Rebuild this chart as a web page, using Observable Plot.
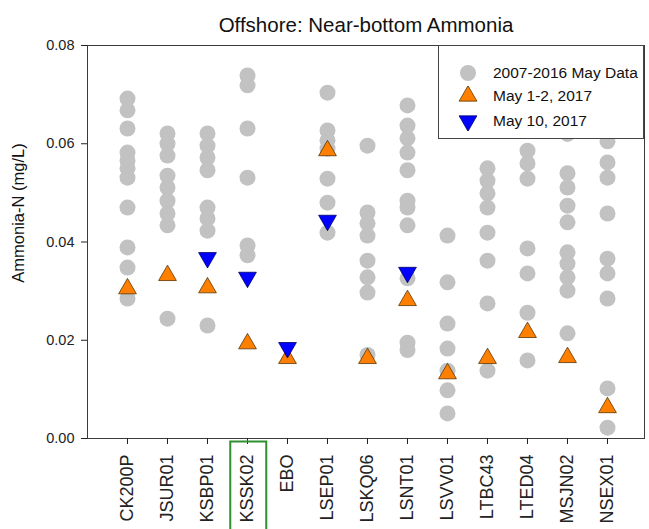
<!DOCTYPE html>
<html>
<head>
<meta charset="utf-8">
<script src="https://cdn.jsdelivr.net/npm/d3@7"></script>
<script src="https://cdn.jsdelivr.net/npm/@observablehq/plot@0.6"></script>
<style>
  body { margin: 0; background: #fff; font-family: Arial, "Liberation Sans", sans-serif; }
  #chart { position: relative; width: 649px; height: 529px; overflow: hidden; }
  #legend {
    position: absolute; left: 438px; top: 45px; width: 206px; height: 94px;
    background: #fff; border: 1px solid #444; box-sizing: border-box;
    font-size: 15.5px; color: #111;
  }
  #legend .row { position: absolute; left: 0; height: 20px; display: flex; align-items: center; }
  #legend svg { width: 30px; height: 20px; margin-left: 14px; margin-right: 10px; }
</style>
</head>
<body>
<div id="chart"></div>
<script>
// Offshore stations sampled for near-bottom ammonia
const stations = ["CK200P", "JSUR01", "KSBP01", "KSSK02", "EBO", "LSEP01", "LSKQ06",
                  "LSNT01", "LSVV01", "LTBC43", "LTED04", "MSJN02", "NSEX01"];
const highlighted = ["KSSK02"];

// 2007-2016 May samples, ammonia-N (mg/L), by station
const CK200P = [0.0692, 0.0668, 0.0631, 0.0582, 0.0566, 0.0550, 0.0531, 0.0470, 0.0389, 0.0348, 0.0285];
const JSUR01 = [0.0621, 0.0600, 0.0576, 0.0535, 0.0511, 0.0484, 0.0458, 0.0434, 0.0244];
const KSBP01 = [0.0621, 0.0596, 0.0572, 0.0546, 0.0470, 0.0448, 0.0423, 0.0230];
const KSSK02 = [0.0739, 0.0719, 0.0631, 0.0531, 0.0393, 0.0373];
const EBO    = [];
const LSEP01 = [0.0704, 0.0627, 0.0607, 0.0590, 0.0529, 0.0480, 0.0419];
const LSKQ06 = [0.0596, 0.0460, 0.0438, 0.0413, 0.0362, 0.0328, 0.0297, 0.0170];
const LSNT01 = [0.0678, 0.0637, 0.0611, 0.0582, 0.0546, 0.0484, 0.0470, 0.0434, 0.0326, 0.0195, 0.0180];
const LSVV01 = [0.0413, 0.0318, 0.0234, 0.0183, 0.0138, 0.0098, 0.0051];
const LTBC43 = [0.0550, 0.0525, 0.0499, 0.0470, 0.0419, 0.0362, 0.0275, 0.0138];
const LTED04 = [0.0586, 0.0560, 0.0529, 0.0387, 0.0336, 0.0256, 0.0159];
const MSJN02 = [0.0620, 0.0540, 0.0511, 0.0474, 0.0440, 0.0379, 0.0356, 0.0328, 0.0301, 0.0214];
const NSEX01 = [0.0605, 0.0562, 0.0531, 0.0458, 0.0366, 0.0336, 0.0285, 0.0102, 0.0022];
const historic = [CK200P, JSUR01, KSBP01, KSSK02, EBO, LSEP01, LSKQ06,
                  LSNT01, LSVV01, LTBC43, LTED04, MSJN02, NSEX01];

// 2017 surveys, same station order (null = not sampled)
const may1to2_2017 = [0.0305, 0.0332, 0.0307, 0.0193, 0.0163, 0.0586, 0.0163,
                      0.0281, 0.0132, 0.0163, 0.0216, 0.0165, 0.0063];
const may10_2017   = [null, null, 0.0368, 0.0328, 0.0185, 0.0444, null,
                      0.0338, null, null, null, null, null];

const yTicks = [0, 0.02, 0.04, 0.06, 0.08];

const historicRows = historic.flatMap((vals, i) => vals.map(v => ({station: stations[i], value: v})));
const early = stations.map((s, i) => ({station: s, value: may1to2_2017[i]}));
const late = stations.map((s, i) => ({station: s, value: may10_2017[i]})).filter(d => d.value != null);

const gray = "#c2c2c2", orange = "#ff8000", blue = "#0000ff";

const plot = Plot.plot({
  width: 649,
  height: 529,
  marginLeft: 87,
  marginRight: 5,
  marginTop: 45,
  marginBottom: 91,
  style: {fontFamily: "Arial, 'Liberation Sans', sans-serif", color: "#222", background: "#fff"},
  x: {type: "point", domain: stations, padding: 0.95, align: 0.525},
  y: {domain: [0, 0.08]},
  marks: [
    Plot.frame({stroke: "#3a3a3a"}),
    Plot.axisY({ticks: yTicks, tickFormat: ".2f", tickSize: 6, tickPadding: 7, fontSize: 14.5, label: null}),
    Plot.axisX({tickRotate: -90, tickSize: 6, tickPadding: 10, fontSize: 18, label: null}),
    Plot.dot(historicRows, {x: "station", y: "value", r: 8, fill: gray}),
    Plot.dot(early, {x: "station", y: "value", symbol: "triangle", r: 6.6, fill: orange, stroke: "#5a3300", strokeWidth: 0.8}),
    Plot.dot(late, {x: "station", y: "value", symbol: "triangle", rotate: 180, r: 6.6, fill: blue, stroke: "#00006a", strokeWidth: 0.8}),
    Plot.text(["Ammonia-N (mg/L)"], {frameAnchor: "left", textAnchor: "middle", rotate: -90, dx: -69, dy: -29, fontSize: 16.5, fill: "#111"}),
    Plot.text(["Offshore: Near-bottom Ammonia"], {frameAnchor: "top", dy: -28, fontSize: 20.5, fill: "#111"})
  ]
});

const chart = document.getElementById("chart");
chart.appendChild(plot);

// Outline the highlighted station names on the x axis
const svgRect = plot.getBoundingClientRect();
plot.querySelectorAll('[aria-label="x-axis tick label"] text').forEach(t => {
  if (!highlighted.includes(t.textContent)) return;
  const b = t.getBoundingClientRect();
  const r = document.createElementNS("http://www.w3.org/2000/svg", "rect");
  r.setAttribute("x", b.left - svgRect.left - 7);
  r.setAttribute("y", b.top - svgRect.top - 13);
  r.setAttribute("width", b.width + 16);
  r.setAttribute("height", 200);
  r.setAttribute("fill", "none");
  r.setAttribute("stroke", "#2f8f2f");
  r.setAttribute("stroke-width", 2);
  plot.appendChild(r);
});

// Legend
const legend = document.createElement("div");
legend.id = "legend";
const items = [
  {label: "2007-2016 May Data", shape: "circle", fill: gray},
  {label: "May 1-2, 2017", shape: "up", fill: orange, stroke: "#5a3300"},
  {label: "May 10, 2017", shape: "down", fill: blue, stroke: "#00006a"}
];
const rowTops = [17, 40, 65];
items.forEach((it, i) => {
  const row = document.createElement("div");
  row.className = "row";
  row.style.top = rowTops[i] + "px";
  const icon = d3.create("svg").attr("viewBox", "-15 -10 30 20");
  if (it.shape === "circle") {
    icon.append("circle").attr("r", 8).attr("fill", it.fill);
  } else {
    icon.append("path")
      .attr("d", d3.symbol(d3.symbolTriangle, Math.PI * 6.6 * 6.6)())
      .attr("transform", it.shape === "down" ? "rotate(180)" : null)
      .attr("fill", it.fill).attr("stroke", it.stroke).attr("stroke-width", 0.8);
  }
  row.appendChild(icon.node());
  const span = document.createElement("span");
  span.textContent = it.label;
  row.appendChild(span);
  legend.appendChild(row);
});
chart.appendChild(legend);
</script>
</body>
</html>
